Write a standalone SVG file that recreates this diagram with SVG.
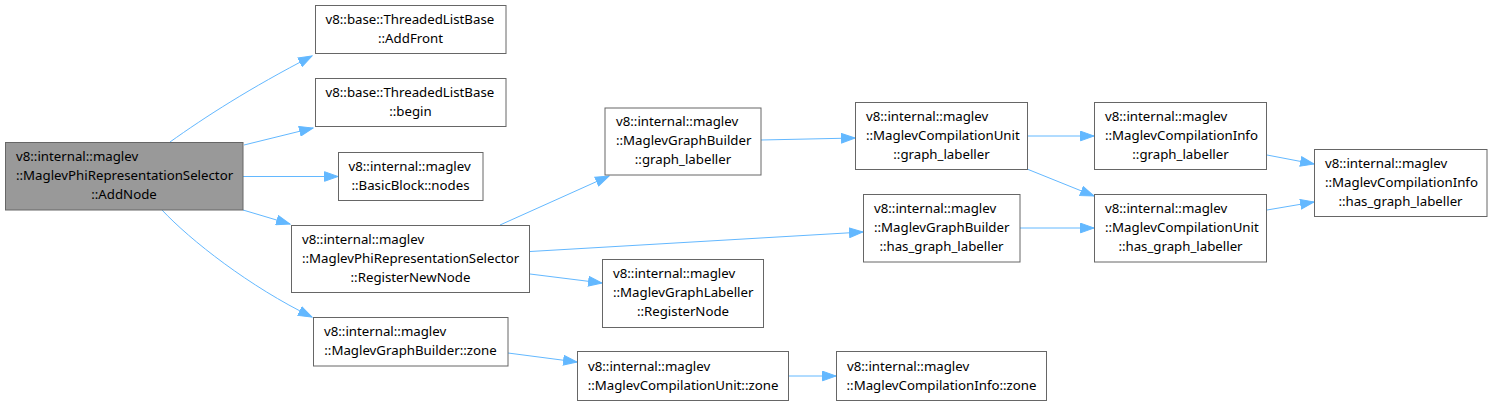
<svg xmlns="http://www.w3.org/2000/svg" width="1493" height="406" viewBox="0 0 1493 406">
<style>
.box{fill:#ffffff;stroke:#666666;stroke-width:1}
.root{fill:#999999;stroke:#666666;stroke-width:1}
text{font-family:"Noto Sans","Open Sans","DejaVu Sans",sans-serif;font-size:13.25px;fill:#000000}
.s{text-anchor:start}
.m{text-anchor:middle}
.e{fill:none;stroke:#63b8ff;stroke-width:1;marker-end:url(#arr)}
</style>
<defs>
<marker id="arr" markerWidth="15" markerHeight="11" refX="14" refY="5.5" orient="auto" markerUnits="userSpaceOnUse">
<path d="M0.5,0.7 L14,5.5 L0.5,10.3 z" fill="#63b8ff" stroke="#63b8ff" stroke-width="1"/>
</marker>
</defs>
<rect width="1493" height="406" fill="#ffffff"/>
<g id="connectors">
<path class="e" d="M170,142 C205,117 250,88 312,56"/>
<path class="e" d="M244,145 L313,128"/>
<path class="e" d="M243,176.5 L338,176.5"/>
<path class="e" d="M243,210 L290,224"/>
<path class="e" d="M162,210 C190,240 250,287 312,317"/>
<path class="e" d="M500,225 L609,176"/>
<path class="e" d="M530,251.5 L863,232"/>
<path class="e" d="M530,274 L602,283"/>
<path class="e" d="M508,353 L577,362"/>
<path class="e" d="M788,376 L836,376"/>
<path class="e" d="M761,140 L855,138"/>
<path class="e" d="M1020,228 L1094,228"/>
<path class="e" d="M1028,136 L1094,136"/>
<path class="e" d="M1027,169 L1094,196"/>
<path class="e" d="M1267,155 L1314,164"/>
<path class="e" d="M1267,210 L1314,202"/>
</g>
<g id="node-addnode">
<rect class="root" x="5.5" y="142.5" width="237.5" height="67.5"/>
<text class="s" x="16" y="160.5">v8::internal::maglev</text>
<text class="s" x="16" y="179.5">::MaglevPhiRepresentationSelector</text>
<text class="m" x="124" y="198.5">::AddNode</text>
</g>
<g id="node-addfront">
<rect class="box" x="315.5" y="5.5" width="190.5" height="48"/>
<text class="s" x="325.5" y="24">v8::base::ThreadedListBase</text>
<text class="m" x="410.5" y="43">::AddFront</text>
</g>
<g id="node-begin">
<rect class="box" x="315.5" y="78.5" width="190.5" height="48"/>
<text class="s" x="325.5" y="97">v8::base::ThreadedListBase</text>
<text class="m" x="410.5" y="116">::begin</text>
</g>
<g id="node-nodes">
<rect class="box" x="338.5" y="152.5" width="144.5" height="48"/>
<text class="s" x="348.5" y="171">v8::internal::maglev</text>
<text class="m" x="410.5" y="190">::BasicBlock::nodes</text>
</g>
<g id="node-registernewnode">
<rect class="box" x="291.5" y="225.5" width="238" height="67"/>
<text class="s" x="302" y="243.5">v8::internal::maglev</text>
<text class="s" x="302" y="262.5">::MaglevPhiRepresentationSelector</text>
<text class="m" x="410.5" y="281.5">::RegisterNewNode</text>
</g>
<g id="node-gb-zone">
<rect class="box" x="313.5" y="317.5" width="194.5" height="48.5"/>
<text class="s" x="324" y="336">v8::internal::maglev</text>
<text class="m" x="410.5" y="355">::MaglevGraphBuilder::zone</text>
</g>
<g id="node-gb-graph-labeller">
<rect class="box" x="605" y="108" width="156" height="67"/>
<text class="s" x="616" y="126">v8::internal::maglev</text>
<text class="s" x="616" y="145">::MaglevGraphBuilder</text>
<text class="m" x="683" y="164">::graph_labeller</text>
</g>
<g id="node-registernode">
<rect class="box" x="602.5" y="259.5" width="161" height="68"/>
<text class="s" x="613" y="278">v8::internal::maglev</text>
<text class="s" x="613" y="297">::MaglevGraphLabeller</text>
<text class="m" x="683" y="316">::RegisterNode</text>
</g>
<g id="node-cu-zone">
<rect class="box" x="577.5" y="351.5" width="211" height="49"/>
<text class="s" x="588" y="370.5">v8::internal::maglev</text>
<text class="m" x="683" y="389.5">::MaglevCompilationUnit::zone</text>
</g>
<g id="node-ci-zone">
<rect class="box" x="836.5" y="351.5" width="210" height="49"/>
<text class="s" x="847" y="370.5">v8::internal::maglev</text>
<text class="m" x="941.5" y="389.5">::MaglevCompilationInfo::zone</text>
</g>
<g id="node-cu-graph-labeller">
<rect class="box" x="855.5" y="102.5" width="172" height="67"/>
<text class="s" x="866" y="120.5">v8::internal::maglev</text>
<text class="s" x="866" y="139.5">::MaglevCompilationUnit</text>
<text class="m" x="941.5" y="158.5">::graph_labeller</text>
</g>
<g id="node-gb-has-graph-labeller">
<rect class="box" x="863.5" y="194.5" width="156.5" height="67.5"/>
<text class="s" x="874" y="212.5">v8::internal::maglev</text>
<text class="s" x="874" y="231.5">::MaglevGraphBuilder</text>
<text class="m" x="941.5" y="250.5">::has_graph_labeller</text>
</g>
<g id="node-ci-graph-labeller">
<rect class="box" x="1094.5" y="102.5" width="172" height="67"/>
<text class="s" x="1105" y="120.5">v8::internal::maglev</text>
<text class="s" x="1105" y="139.5">::MaglevCompilationInfo</text>
<text class="m" x="1180.5" y="158.5">::graph_labeller</text>
</g>
<g id="node-cu-has-graph-labeller">
<rect class="box" x="1094.5" y="194.5" width="172" height="67.5"/>
<text class="s" x="1105" y="212.5">v8::internal::maglev</text>
<text class="s" x="1105" y="231.5">::MaglevCompilationUnit</text>
<text class="m" x="1180.5" y="250.5">::has_graph_labeller</text>
</g>
<g id="node-ci-has-graph-labeller">
<rect class="box" x="1314.5" y="149.5" width="172.5" height="67"/>
<text class="s" x="1325" y="167.5">v8::internal::maglev</text>
<text class="s" x="1325" y="186.5">::MaglevCompilationInfo</text>
<text class="m" x="1400.5" y="205.5">::has_graph_labeller</text>
</g>
</svg>
